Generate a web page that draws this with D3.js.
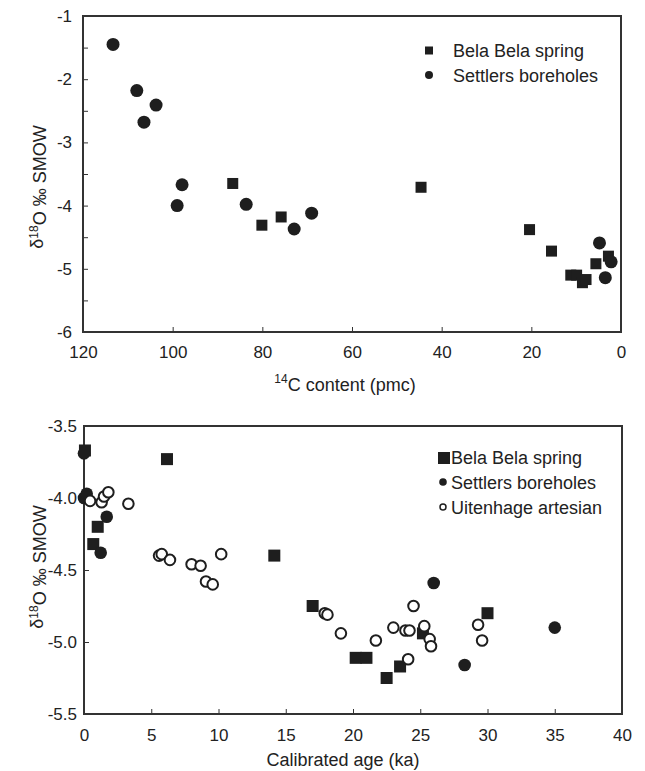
<!DOCTYPE html>
<html>
<head>
<meta charset="utf-8">
<script src="https://cdn.jsdelivr.net/npm/d3@7"></script>
<style>
  body { margin: 0; background: #fff; }
  text { font-family: Arial, "Liberation Sans", sans-serif; fill: #222; }
</style>
</head>
<body>
<div id="chart"></div>
<script>
// top panel: 14C content vs d18O
var topSpring = [[86.6,-3.65],[80.1,-4.31],[75.8,-4.18],[44.6,-3.71],[20.4,-4.38],[15.5,-4.72],
  [11.2,-5.10],[9.9,-5.10],[8.6,-5.22],[7.8,-5.17],[5.6,-4.92],[2.8,-4.80]];
var topSettlers = [[113.3,-1.45],[108.0,-2.18],[106.4,-2.68],[103.7,-2.41],[99.0,-4.0],[97.9,-3.67],
  [83.6,-3.98],[72.9,-4.37],[69.0,-4.12],[4.8,-4.59],[3.5,-5.14],[2.2,-4.89]];
var topXTicks = [120, 100, 80, 60, 40, 20, 0];
var topYTicks = [-1, -1.5, -2, -2.5, -3, -3.5, -4, -4.5, -5, -5.5, -6];

// bottom panel: calibrated age vs d18O
var botSpring = [[0.07,-3.67],[6.17,-3.73],[1.02,-4.20],[0.69,-4.32],[14.15,-4.40],[17.0,-4.75],
  [20.2,-5.11],[21.0,-5.11],[22.5,-5.25],[23.5,-5.17],[25.2,-4.94],[30.0,-4.80]];
var botSettlers = [[0.0,-3.69],[0.0,-4.0],[0.2,-3.97],[1.69,-4.13],[1.24,-4.38],[26.0,-4.59],
  [28.3,-5.16],[35.0,-4.90]];
var botUitenhage = [[0.45,-4.02],[1.31,-4.03],[1.49,-3.99],[1.81,-3.96],[3.3,-4.04],[5.58,-4.40],
  [5.78,-4.39],[6.39,-4.43],[8.0,-4.46],[8.67,-4.47],[9.07,-4.58],[9.57,-4.60],[10.2,-4.39],
  [17.9,-4.80],[18.1,-4.81],[19.1,-4.94],[21.7,-4.99],[23.0,-4.90],[23.9,-4.92],[24.2,-4.92],
  [24.1,-5.12],[24.5,-4.75],[25.3,-4.89],[25.7,-4.98],[25.8,-5.03],[29.3,-4.88],[29.6,-4.99]];
var botXTicks = [0, 5, 10, 15, 20, 25, 30, 35, 40];
var botYTicks = [-3.5, -4.0, -4.5, -5.0, -5.5];

var svg = d3.select("#chart").append("svg")
  .attr("width", 645)
  .attr("height", 771);

var ink = "#1e1e1e";

function yTitle(g, cx, cy) {
  var t = g.append("text")
    .attr("transform", "translate(" + cx + "," + cy + ") rotate(-90)")
    .attr("text-anchor", "middle")
    .style("font-size", "18px");
  t.append("tspan").text("\u03b4");
  t.append("tspan").attr("dy", "-0.45em").style("font-size", "12px").text("18");
  t.append("tspan").attr("dy", "0.45em").text("O \u2030 SMOW");
}

// ---------- top panel ----------
var x1 = d3.scaleLinear().domain([120, 0]).range([83, 621]);
var y1 = d3.scaleLinear().domain([-1, -6]).range([16, 332]);
var g1 = svg.append("g");

g1.append("g")
  .attr("transform", "translate(0,332)")
  .call(d3.axisBottom(x1).tickValues(topXTicks).tickSizeInner(-5).tickSizeOuter(0)
    .tickPadding(14).tickFormat(d3.format("d")))
  .call(function(a) { a.select(".domain").remove(); })
  .call(function(a) { a.selectAll("text").style("font-size", "17px"); });

g1.append("g")
  .attr("transform", "translate(83,0)")
  .call(d3.axisLeft(y1).tickValues(topYTicks).tickSizeInner(-5).tickSizeOuter(0)
    .tickPadding(11).tickFormat(function(d) { return Number.isInteger(d) ? String(d) : ""; }))
  .call(function(a) { a.select(".domain").remove(); })
  .call(function(a) { a.selectAll("text").style("font-size", "17px"); });

g1.selectAll(".tick line").attr("stroke", "#333");

g1.append("rect")
  .attr("x", 83).attr("y", 16)
  .attr("width", 621 - 83).attr("height", 332 - 16)
  .attr("fill", "none").attr("stroke", "#333").attr("stroke-width", 2);

g1.selectAll(".sq").data(topSpring).enter().append("rect")
  .attr("x", function(d) { return x1(d[0]) - 5.5; })
  .attr("y", function(d) { return y1(d[1]) - 5.5; })
  .attr("width", 11).attr("height", 11)
  .attr("fill", ink);

g1.selectAll(".ci").data(topSettlers).enter().append("circle")
  .attr("cx", function(d) { return x1(d[0]); })
  .attr("cy", function(d) { return y1(d[1]); })
  .attr("r", 6.5)
  .attr("fill", ink);

// legend
g1.append("rect").attr("x", 425).attr("y", 46.5).attr("width", 8).attr("height", 8).attr("fill", ink);
g1.append("text").attr("x", 453).attr("y", 57).style("font-size", "18px").text("Bela Bela spring");
g1.append("circle").attr("cx", 429).attr("cy", 75).attr("r", 4).attr("fill", ink);
g1.append("text").attr("x", 453).attr("y", 82).style("font-size", "18px").text("Settlers boreholes");

var xt1 = g1.append("text").attr("x", 345).attr("y", 388).attr("text-anchor", "middle")
  .style("font-size", "18px");
xt1.append("tspan").attr("dy", "-0.45em").style("font-size", "12px").text("14");
xt1.append("tspan").attr("dy", "0.45em").text("C content (pmc)");

yTitle(g1, 43, 187);

// ---------- bottom panel ----------
var x2 = d3.scaleLinear().domain([0, 40]).range([84, 622]);
var y2 = d3.scaleLinear().domain([-3.5, -5.5]).range([426, 714]);
var g2 = svg.append("g");

g2.append("g")
  .attr("transform", "translate(0,714)")
  .call(d3.axisBottom(x2).tickValues(botXTicks).tickSizeInner(-5).tickSizeOuter(0)
    .tickPadding(15).tickFormat(d3.format("d")))
  .call(function(a) { a.select(".domain").remove(); })
  .call(function(a) { a.selectAll("text").style("font-size", "17px"); });

g2.append("g")
  .attr("transform", "translate(84,0)")
  .call(d3.axisLeft(y2).tickValues(botYTicks).tickSizeInner(-5).tickSizeOuter(0)
    .tickPadding(7).tickFormat(function(d) { return d.toFixed(1); }))
  .call(function(a) { a.select(".domain").remove(); })
  .call(function(a) { a.selectAll("text").style("font-size", "17px"); });

g2.selectAll(".tick line").attr("stroke", "#333");

g2.append("rect")
  .attr("x", 84).attr("y", 426)
  .attr("width", 622 - 84).attr("height", 714 - 426)
  .attr("fill", "none").attr("stroke", "#333").attr("stroke-width", 2);

g2.selectAll(".sq").data(botSpring).enter().append("rect")
  .attr("x", function(d) { return x2(d[0]) - 6; })
  .attr("y", function(d) { return y2(d[1]) - 6; })
  .attr("width", 12).attr("height", 12)
  .attr("fill", ink);

g2.selectAll(".ci").data(botSettlers).enter().append("circle")
  .attr("cx", function(d) { return x2(d[0]); })
  .attr("cy", function(d) { return y2(d[1]); })
  .attr("r", 6.3)
  .attr("fill", ink);

g2.selectAll(".oc").data(botUitenhage).enter().append("circle")
  .attr("cx", function(d) { return x2(d[0]); })
  .attr("cy", function(d) { return y2(d[1]); })
  .attr("r", 5.3)
  .attr("fill", "#fff")
  .attr("stroke", ink)
  .attr("stroke-width", 2);

// legend
g2.append("rect").attr("x", 438).attr("y", 452).attr("width", 12).attr("height", 12).attr("fill", ink);
g2.append("text").attr("x", 451).attr("y", 464).style("font-size", "18px").text("Bela Bela spring");
g2.append("circle").attr("cx", 443).attr("cy", 482).attr("r", 3.8).attr("fill", ink);
g2.append("text").attr("x", 451).attr("y", 489).style("font-size", "18px").text("Settlers boreholes");
g2.append("circle").attr("cx", 443).attr("cy", 507).attr("r", 3).attr("fill", "#fff")
  .attr("stroke", ink).attr("stroke-width", 1.5);
g2.append("text").attr("x", 451).attr("y", 514).style("font-size", "18px").text("Uitenhage artesian");

g2.append("text").attr("x", 343).attr("y", 766).attr("text-anchor", "middle")
  .style("font-size", "18px").text("Calibrated age (ka)");

yTitle(g2, 43, 567);
</script>
</body>
</html>
